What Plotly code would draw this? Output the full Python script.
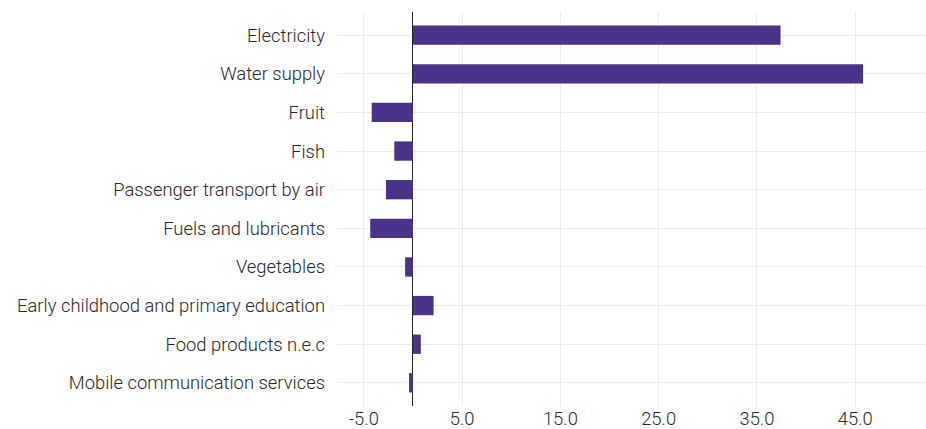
import plotly.graph_objects as go

categories = [
    "Electricity",
    "Water supply",
    "Fruit",
    "Fish",
    "Passenger transport by air",
    "Fuels and lubricants",
    "Vegetables",
    "Early childhood and primary education",
    "Food products n.e.c",
    "Mobile communication services",
]
values = [37.4, 45.8, -4.2, -1.9, -2.75, -4.35, -0.8, 2.1, 0.8, -0.4]
tick_vals = [-5, 5, 15, 25, 35, 45]
tick_text = ["-5.0", "5.0", "15.0", "25.0", "35.0", "45.0"]

FONT = dict(family="Roboto Light, Roboto", size=18.4, color="#2a2a2a", weight=300)

fig = go.Figure(
    go.Bar(
        x=values,
        y=categories,
        orientation="h",
        marker=dict(color="#4b3188", line=dict(width=0)),
        width=0.5,
        hoverinfo="skip",
    )
)

fig.update_layout(
    width=926,
    height=429,
    margin=dict(l=337, r=0, t=12, b=23),
    paper_bgcolor="white",
    plot_bgcolor="white",
    showlegend=False,
    font=FONT,
)
fig.update_xaxes(
    range=[-7.73, 52.2],
    tickvals=tick_vals,
    ticktext=tick_text,
    showgrid=True,
    gridcolor="#ebebeb",
    gridwidth=1,
    zeroline=True,
    zerolinecolor="#222222",
    zerolinewidth=1,
    showline=False,
    ticks="",
    automargin=False,
    tickfont=FONT,
)
fig.update_yaxes(
    categoryorder="array",
    categoryarray=categories,
    range=[9.6, -0.6],
    showgrid=True,
    gridcolor="#ebebeb",
    gridwidth=1,
    zeroline=False,
    showline=False,
    ticks="",
    ticklabelstandoff=11,
    automargin=False,
    tickfont=FONT,
)

fig.write_html(
    "out.html",
    config={"displayModeBar": False},
    post_script="document.body.style.margin='0';document.body.style.padding='0';",
)
